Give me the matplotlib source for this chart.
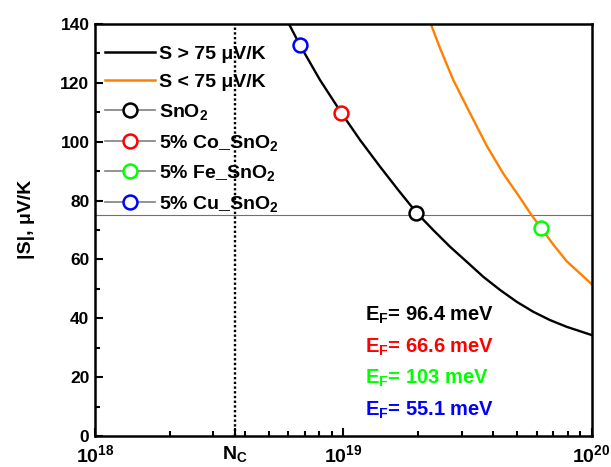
import matplotlib
matplotlib.use("Agg")
import matplotlib.pyplot as plt
from matplotlib.lines import Line2D
from matplotlib.ticker import LogLocator, NullFormatter, MultipleLocator

plt.rcParams['font.family'] = ['Liberation Sans', 'DejaVu Sans']
plt.rcParams['font.weight'] = 'bold'
plt.rcParams['mathtext.fontset'] = 'custom'
plt.rcParams['mathtext.rm'] = 'Liberation Sans:bold'
plt.rcParams['mathtext.bf'] = 'Liberation Sans:bold'
plt.rcParams['mathtext.it'] = 'Liberation Sans:bold'
plt.rcParams['mathtext.default'] = 'bf'

# curves (carrier concentration in cm^-3, |S| in uV/K)
n_high = [6.04e18, 6.68e18, 8.05e18, 9.80e18, 1.167e19, 1.406e19, 1.663e19, 1.97e19,
          2.30e19, 2.69e19, 3.14e19, 3.66e19, 4.28e19, 4.99e19, 5.82e19, 6.79e19,
          7.93e19, 1.0e20]
s_high = [140.0, 132.9, 121.0, 109.9, 100.6, 91.5, 83.6, 75.9,
          70.0, 64.3, 59.2, 54.1, 49.6, 45.6, 42.2, 39.4,
          37.1, 34.3]
n_low = [2.25e19, 2.45e19, 2.77e19, 3.24e19, 3.78e19, 4.41e19, 5.14e19, 5.70e19,
         6.24e19, 7.01e19, 7.93e19, 1.0e20]
s_low = [140.0, 131.8, 121.0, 109.6, 98.6, 89.1, 81.0, 75.3,
         70.8, 65.0, 59.4, 51.6]

# samples
samples = ['SnO$_2$', '5% Co_SnO$_2$', '5% Fe_SnO$_2$', '5% Cu_SnO$_2$']
sample_n = [1.97e19, 9.80e18, 6.24e19, 6.68e18]
sample_s = [75.9, 109.9, 70.8, 132.9]
sample_colors = ['black', '#FF0000', '#00FF00', '#0000FF']
ef_labels = ['96.4 meV', '66.6 meV', '103 meV', '55.1 meV']

NC = 3.65e18
S_LIMIT = 75

fig = plt.figure(figsize=(6.11, 4.67), dpi=100)
ax = fig.add_axes([0.1555, 0.0664, 0.8129, 0.8822])

ax.axhline(S_LIMIT, color='#707070', lw=0.8, zorder=1)
ax.plot(n_high, s_high, color='black', lw=1.7, zorder=2)
ax.plot(n_low, s_low, color='#FF8000', lw=1.7, zorder=2)
ax.axvline(NC, color='black', lw=1.7, ls=(0, (1, 1)), zorder=2)
for x, y, c in zip(sample_n, sample_s, sample_colors):
    ax.plot([x], [y], 'o', ms=10, mfc='white', mec=c, mew=1.8, zorder=3)

ax.set_xscale('log')
ax.set_xlim(1e18, 1e20)
ax.set_ylim(0, 140)
ax.set_xticks([1e18, NC, 1e19, 1e20])
ax.set_xticklabels(['$10^{18}$', 'N$_C$', '$10^{19}$', '$10^{20}$'])
ax.xaxis.set_minor_locator(LogLocator(base=10, subs=range(2, 10)))
ax.xaxis.set_minor_formatter(NullFormatter())
ax.yaxis.set_major_locator(MultipleLocator(20))
ax.yaxis.set_minor_locator(MultipleLocator(10))
ax.tick_params(which='both', direction='in', top=False, right=False, width=1.5)
ax.tick_params(which='major', length=6, pad=4)
ax.tick_params(which='minor', length=3.5)
ax.tick_params(axis='y', labelsize=12.5)
ax.tick_params(axis='x', labelsize=14, pad=6)
for sp in ax.spines.values():
    sp.set_linewidth(1.8)

ax.set_ylabel('|S|, μV/K', fontsize=14, fontweight='bold', labelpad=18)
ax.yaxis.label.set_y(0.525)

handles = [Line2D([], [], color='black', lw=1.8),
           Line2D([], [], color='#FF8000', lw=1.8)]
for c in sample_colors:
    handles.append(Line2D([], [], color='#808080', lw=1.2, marker='o', ms=10,
                          mfc='white', mec=c, mew=1.8))
labels = ['S > 75 μV/K', 'S < 75 μV/K'] + samples
ax.legend(handles, labels, loc='upper left', bbox_to_anchor=(0.012, 0.958),
          frameon=False, fontsize=14, handlelength=2.6, handletextpad=0.2,
          labelspacing=0.55, borderaxespad=0, borderpad=0.2)

ys = [0.294, 0.216, 0.141, 0.063]
for lab, c, y in zip(ef_labels, sample_colors, ys):
    ax.text(0.5436, y, 'E$_F$= ' + lab, color=c, fontsize=14.5, fontweight='bold',
            transform=ax.transAxes, va='center', ha='left')

fig.savefig('out.png', dpi=100)
